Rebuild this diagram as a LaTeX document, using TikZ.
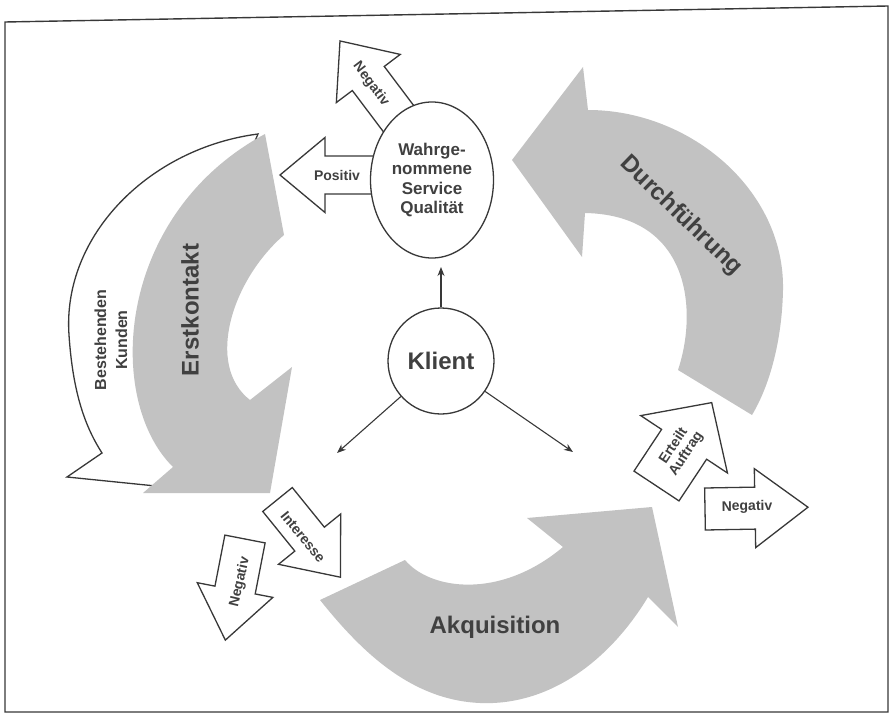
\documentclass[tikz,border=0pt]{standalone}
\usepackage{fontspec}
\setmainfont{Liberation Sans}
\usetikzlibrary{arrows.meta,shapes.geometric}
\definecolor{arrowgray}{gray}{0.76}
\definecolor{ink}{gray}{0.22}
\definecolor{txt}{gray}{0.25}
\tikzset{
  bigarrow/.style={fill=arrowgray, draw=none},
  blockarrow/.style={draw=ink, line width=1.3pt, fill=white, line join=miter},
  biglabel/.style={text=txt, font=\fontsize{24}{26}\selectfont\bfseries, inner sep=0pt},
  smalllabel/.style={text=txt, font=\fontsize{14}{15}\selectfont\bfseries, inner sep=0pt, align=center},
  midlabel/.style={text=txt, font=\fontsize{16}{21}\selectfont\bfseries, inner sep=0pt, align=center},
  conn/.style={draw=ink, line width=1.1pt, -{Stealth[length=9pt,width=7pt]}},
}
\newcommand\blockarr[6]{\draw[blockarrow, shift={#1}, rotate=#2] (0,-#5) -- ({#3-#4},-#5) -- ({#3-#4},-#6) -- (#3,0) -- ({#3-#4},#6) -- ({#3-#4},#5) -- (0,#5) -- cycle;}
\begin{document}
\begin{tikzpicture}[x=1pt,y=-1pt]
\useasboundingbox (0,0) rectangle (892,717);
% frame
\draw[ink, line width=1.4pt] (5,22) -- (888,6) -- (888,712) -- (5,712) -- cycle;

% white curved arrow "Bestehenden Kunden"
\draw[blockarrow] (258,134) .. controls (150,148) and (62,235) .. (69,335)
  .. controls (73,395) and (86,428) .. (102,453) -- (67,477) -- (205,491) -- (185,440)
  .. controls (160,360) and (170,220) .. (252,148) -- cycle;

% Erstkontakt
\fill[bigarrow] (265,134) -- (284,235) .. controls (232,280) and (205,365) .. (250,400)
  -- (292,367) -- (270,493) -- (143,493) -- (173,467)
  .. controls (105,400) and (115,215) .. (265,134) -- cycle;

% Durchfuehrung
\fill[bigarrow] (512,160) -- (583,67) -- (588,110)
  .. controls (690,110) and (785,190) .. (783,290)
  .. controls (782,340) and (770,385) .. (752,415) -- (678,370)
  .. controls (698,310) and (690,215) .. (585,213) -- (582,257) -- cycle;

% Akquisition
\fill[bigarrow] (320,600) .. controls (360,650) and (410,700) .. (480,703)
  .. controls (550,706) and (610,660) .. (648,597) -- (678,627) -- (652,507)
  -- (527,518) -- (563,547) .. controls (500,600) and (430,590) .. (405,560) -- cycle;

% small block arrows
\blockarr{(405.6,128)}{127}{109}{47}{20}{40}
\blockarr{(392,175)}{180}{112}{45}{19}{37.5}
\blockarr{(656.5,486)}{56.5}{100}{50}{27}{52}
\blockarr{(705,509)}{1}{103}{53}{21}{39.5}
\blockarr{(277.5,499.5)}{-51}{100}{49}{19}{40}
\blockarr{(245,539)}{-101}{103}{51}{20.5}{38.5}

% ellipse and client
\node[ellipse, draw=ink, line width=1.3pt, fill=white, minimum width=123pt, minimum height=156pt,
      inner sep=0pt, align=center, text=txt, font=\fontsize{17}{19.5}\selectfont\bfseries]
      (wsq) at (432,180) {Wahrge-\\nommene\\Service\\Qualität};
\node[circle, draw=ink, line width=1.3pt, fill=white, minimum size=106pt, biglabel] (klient) at (441,361) {Klient};

\coordinate (kup) at (441,267);
\coordinate (kleft) at (337,453);
\coordinate (kright) at (573,452);
\draw[conn] (klient) -- (kup);
\draw[conn] (klient) -- (kleft);
\draw[conn] (klient) -- (kright);

% labels
\node[smalllabel, rotate=-53] (tnegtop) at (371,84) {Negativ};
\node[smalllabel] (tpos) at (337,175) {Positiv};
\node[smalllabel, rotate=56.5] (terteilt) at (680,450) {Erteilt\\Auftrag};
\node[smalllabel, rotate=1] (tnegright) at (747,507) {Negativ};
\node[smalllabel, rotate=-51] (tinter) at (303,537) {Interesse};
\node[smalllabel, rotate=77] (tnegbl) at (240,582) {Negativ};
\node[midlabel, rotate=90] (tbest) at (111,340) {Bestehenden\\Kunden};
\node[biglabel, rotate=90] (terst) at (190,310) {Erstkontakt};
\node[biglabel, rotate=-44] (tdurch) at (681,216) {Durchführung};
\node[biglabel] (takq) at (495,627) {Akquisition};
\end{tikzpicture}
\end{document}
